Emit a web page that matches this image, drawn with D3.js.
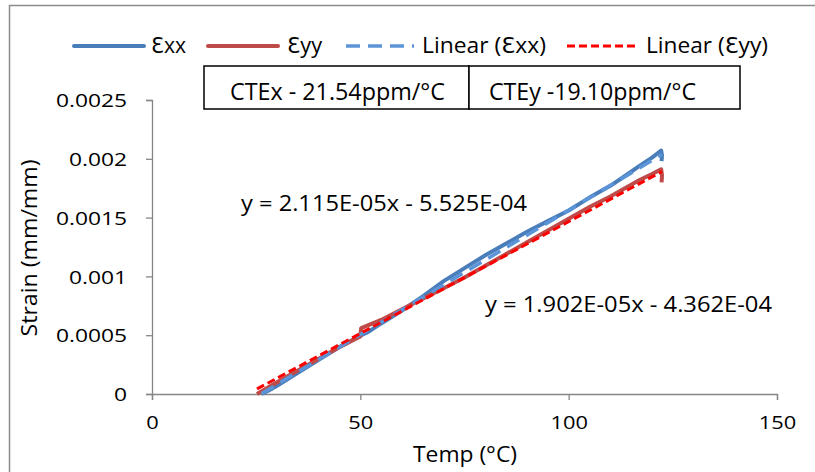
<!DOCTYPE html>
<html><head><meta charset="utf-8">
<script src="https://cdn.jsdelivr.net/npm/d3@7/dist/d3.min.js"></script>
<style>
html,body{margin:0;padding:0;background:#fff;}
svg{display:block;font-family:"Open Sans",sans-serif;}
</style></head>
<body><svg id="c" width="815" height="472"></svg>
<script>
// ---- data ----
const seriesNames = ["Ɛxx", "Ɛyy", "Linear (Ɛxx)", "Linear (Ɛyy)"];
const exxTemp   = [26.3, 28, 30, 35, 40, 45, 50, 52, 55, 60, 65, 70, 75, 80, 85, 90, 95, 100, 105, 110, 115, 117, 120, 122.2, 122.4, 122.3];
const exxStrain = [0, 0.00003, 0.00007, 0.00018, 0.00029, 0.0004, 0.000495, 0.00053, 0.0006, 0.00071, 0.00083, 0.00096, 0.00107, 0.00118, 0.00128, 0.00138, 0.00147, 0.00156, 0.00167, 0.00177, 0.00189, 0.00194, 0.00201, 0.00207, 0.00203, 0.00198];
const eyyTemp   = [25.2, 30, 35, 40, 45, 50, 50.2, 55, 60, 65, 70, 75, 80, 85, 90, 95, 100, 105, 110, 115, 117, 120, 122.2, 122.4, 122.3];
const eyyStrain = [0, 0.0001, 0.0002, 0.0003, 0.0004, 0.00049, 0.00056, 0.00063, 0.00072, 0.00081, 0.0009, 0.00099, 0.00109, 0.00119, 0.00129, 0.00139, 0.00149, 0.00159, 0.00168, 0.00178, 0.00182, 0.00187, 0.00191, 0.00186, 0.0018];
const trendSlope     = [2.115e-5, 1.902e-5];
const trendIntercept = [-5.525e-4, -4.362e-4];
const equations = ["y = 2.115E-05x - 5.525E-04", "y = 1.902E-05x - 4.362E-04"];
const cteLabels = ["CTEx - 21.54ppm/°C", "CTEy -19.10ppm/°C"];
const xTicks = [0, 50, 100, 150];
const yTicks = [0, 0.0005, 0.001, 0.0015, 0.002, 0.0025];
const xTitle = "Temp (°C)";
const yTitle = "Strain (mm/mm)";

// ---- layout ----
const svg = d3.select("#c");
const x = d3.scaleLinear().domain([0, 150]).range([152, 777]);
const y = d3.scaleLinear().domain([0, 0.0025]).range([394, 100]);
const axisColor = "#868686";

// outer chart border
svg.append("rect").attr("x", 9.5).attr("y", 5.5).attr("width", 900).attr("height", 600)
  .attr("fill", "none").attr("stroke", "#8c8c8c").attr("stroke-width", 1.5);

// axes
const gx = svg.append("g").attr("transform", `translate(0,${y(0)})`)
  .call(d3.axisBottom(x).tickValues(xTicks).tickSize(6).tickPadding(12).tickFormat(d3.format("d")));
const gy = svg.append("g").attr("transform", `translate(${x(0)},0)`)
  .call(d3.axisLeft(y).tickValues(yTicks).tickSize(6).tickPadding(19).tickFormat(d => d === 0 ? "0" : String(+d.toFixed(4))));
[gx, gy].forEach(g => {
  g.selectAll(".domain").attr("stroke", axisColor).attr("stroke-width", 1.3);
  g.selectAll(".tick line").attr("stroke", axisColor).attr("stroke-width", 1.3);
  g.selectAll(".tick text").attr("fill", "#000").attr("font-family", "Open Sans").attr("font-size", 19);
});
gy.selectAll(".tick text").attr("x", -25 / 1.2).attr("dy", "0.35em").attr("transform", "scale(1.2,1)");
gx.selectAll(".tick text").attr("transform", "scale(1.15,1)").attr("y", 22).attr("dy", "0.71em");

// axis titles
svg.append("text").attr("x", 465).attr("y", 462).attr("text-anchor", "middle")
  .attr("font-size", 21).attr("textLength", 104).attr("lengthAdjust", "spacingAndGlyphs").text(xTitle);
svg.append("text").attr("transform", "translate(37,248) rotate(-90)").attr("text-anchor", "middle")
  .attr("font-size", 21).attr("textLength", 177).attr("lengthAdjust", "spacingAndGlyphs").text(yTitle);

// series
const straight = d3.line().x(d => x(d[0])).y(d => y(d[1]));
const exx = exxTemp.map((t, i) => [t, exxStrain[i]]);
const eyy = eyyTemp.map((t, i) => [t, eyyStrain[i]]);
const styles = [
  {stroke: "#4A7EBB", width: 4, dash: null},
  {stroke: "#BE4B48", width: 4, dash: null},
  {stroke: "#5B95D8", width: 3.5, dash: "14,8"},
  {stroke: "#FF0000", width: 3, dash: "8,4"}
];
svg.append("path").datum(exx).attr("d", straight).attr("fill", "none")
  .attr("stroke", styles[0].stroke).attr("stroke-width", styles[0].width).attr("stroke-linejoin", "round");
svg.append("path").datum(eyy).attr("d", straight).attr("fill", "none")
  .attr("stroke", styles[1].stroke).attr("stroke-width", styles[1].width).attr("stroke-linejoin", "round");

// trendlines from coefficients over each series' temperature range
[exxTemp, eyyTemp].forEach((temps, i) => {
  const t0 = d3.min(temps), t1 = d3.max(temps);
  const pts = [t0, t1].map(t => [t, trendSlope[i] * t + trendIntercept[i]]);
  const s = styles[i + 2];
  svg.append("path").datum(pts).attr("d", straight).attr("fill", "none")
    .attr("stroke", s.stroke).attr("stroke-width", s.width).attr("stroke-dasharray", s.dash);
});

// equations
svg.append("text").attr("x", 241).attr("y", 211).attr("font-size", 22)
  .attr("textLength", 286).attr("lengthAdjust", "spacingAndGlyphs").text(equations[0]);
svg.append("text").attr("x", 485).attr("y", 312).attr("font-size", 22)
  .attr("textLength", 287).attr("lengthAdjust", "spacingAndGlyphs").text(equations[1]);

// CTE boxes
const boxes = [{x0: 204, x1: 469, tx: 230, tw: 215}, {x0: 469, x1: 740, tx: 489, tw: 207}];
boxes.forEach((b, i) => {
  svg.append("rect").attr("x", b.x0).attr("y", 66).attr("width", b.x1 - b.x0).attr("height", 43)
    .attr("fill", "#fff").attr("stroke", "#000").attr("stroke-width", 1.5);
  svg.append("text").attr("x", b.tx).attr("y", 100).attr("font-size", 23)
    .attr("textLength", b.tw).attr("lengthAdjust", "spacingAndGlyphs").text(cteLabels[i]);
});

// legend
const legend = [
  {l0: 74, l1: 144, tx: 151, tw: 35},
  {l0: 208, l1: 278, tx: 287, tw: 35},
  {l0: 346, l1: 414, tx: 422, tw: 124},
  {l0: 567, l1: 639, tx: 646, tw: 122}
];
legend.forEach((d, i) => {
  const s = styles[i];
  svg.append("line").attr("x1", d.l0).attr("x2", d.l1).attr("y1", 46).attr("y2", 46)
    .attr("stroke", s.stroke).attr("stroke-width", s.width).attr("stroke-dasharray", s.dash)
    .attr("stroke-linecap", s.dash ? "butt" : "round");
  const t = svg.append("text").attr("x", d.tx).attr("y", 53).attr("font-size", 21)
    .attr("textLength", d.tw).attr("lengthAdjust", "spacingAndGlyphs");
  // render the open-E glyph with a font that draws it at capital height
  seriesNames[i].split(/(Ɛ)/).filter(p => p.length).forEach(part => {
    t.append("tspan").attr("font-family", part === "Ɛ" ? "'DejaVu Sans'" : "'Open Sans'").text(part);
  });
});
</script></body></html>
